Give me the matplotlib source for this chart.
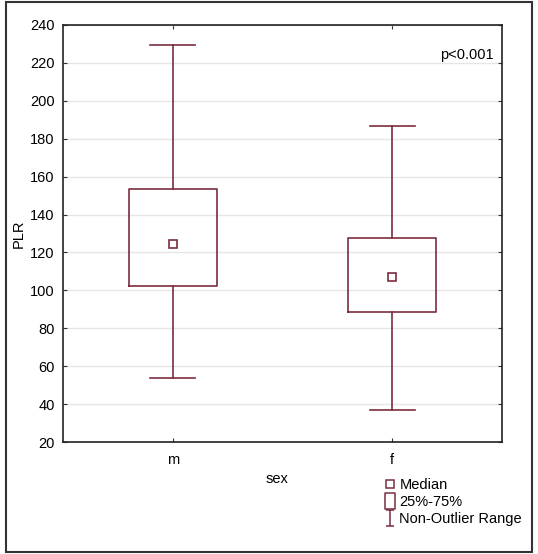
import matplotlib
matplotlib.use("Agg")
import matplotlib.pyplot as plt
from matplotlib.lines import Line2D
from matplotlib.patches import Rectangle
from matplotlib.path import Path

plt.rcParams['font.family'] = ['Liberation Sans', 'DejaVu Sans']

# data
groups = ["m", "f"]
medians = [124.4, 106.9]
q1 = [102.3, 88.7]
q3 = [153.3, 127.8]
whis_lo = [53.7, 36.7]
whis_hi = [229.4, 186.9]

col = "#7b2d3e"

fig = plt.figure(figsize=(5.38, 5.54), dpi=100)
ax = fig.add_axes([63 / 538, 1 - 442 / 554, 439 / 538, 417 / 554])

stats = []
for i, g in enumerate(groups):
    stats.append({"label": g, "med": medians[i], "q1": q1[i], "q3": q3[i],
                  "whislo": whis_lo[i], "whishi": whis_hi[i], "fliers": []})

ax.bxp(stats, positions=range(len(groups)), widths=0.40, capwidths=0.205,
       showfliers=False,
       boxprops=dict(color=col, linewidth=1.2),
       whiskerprops=dict(color=col, linewidth=1.2),
       capprops=dict(color=col, linewidth=1.2),
       medianprops=dict(visible=False))
ax.plot(range(len(groups)), medians, ls="none", marker="s", ms=6,
        mfc="white", mec=col, mew=1.2, zorder=5)

ax.set_xlim(-0.5, 1.5)
ax.set_ylim(20, 240)
ax.set_yticks(range(20, 241, 20))
ax.set_xticks(range(len(groups)), groups)
ax.grid(axis="y", color="#e6e6e6", linewidth=1)
ax.set_axisbelow(True)
ax.tick_params(direction="in", top=True, right=True, labelsize=10.5, length=3,
               color="#333333", pad=6)
ax.tick_params(axis="x", pad=8)
for s in ax.spines.values():
    s.set_color("#222222")
    s.set_linewidth(1.2)

ax.set_ylabel("PLR", fontsize=10.5, labelpad=3)
ax.set_xlabel("sex", fontsize=10.5)
ax.xaxis.set_label_coords(0.487, -0.072)
ax.text(0.98, 0.928, "p<0.001", transform=ax.transAxes, ha="right",
        va="center", fontsize=10.5)

# legend
ibar = Path([(-0.5, -1), (0.5, -1), (0, -1), (0, 1), (-0.5, 1), (0.5, 1)],
            [Path.MOVETO, Path.LINETO, Path.MOVETO, Path.LINETO,
             Path.MOVETO, Path.LINETO])
tallbox = Path([(-0.62, -1), (0.62, -1), (0.62, 1), (-0.62, 1), (-0.62, -1)],
               [Path.MOVETO, Path.LINETO, Path.LINETO, Path.LINETO,
                Path.CLOSEPOLY])
handles = [
    Line2D([], [], ls="none", marker="s", ms=5.5, mfc="white", mec=col, mew=1.1),
    Line2D([], [], ls="none", marker=tallbox, ms=11, mfc="white", mec=col, mew=1.1),
    Line2D([], [], ls="none", marker=ibar, ms=12, mec=col, mew=1.1),
]
fig.legend(handles, ["Median", "25%-75%", "Non-Outlier Range"],
           loc="upper left", bbox_to_anchor=(384 / 538, 1 - 478 / 554),
           frameon=False, fontsize=10.5, handlelength=0.8, handletextpad=0.25,
           labelspacing=0.2, borderpad=0, borderaxespad=0)

# outer frame
fig.add_artist(Rectangle((6 / 538, 2 / 554), 526 / 538, 550 / 554,
                         transform=fig.transFigure, fill=False,
                         edgecolor="#333333", linewidth=1.5))

fig.savefig("out.png", dpi=100)
